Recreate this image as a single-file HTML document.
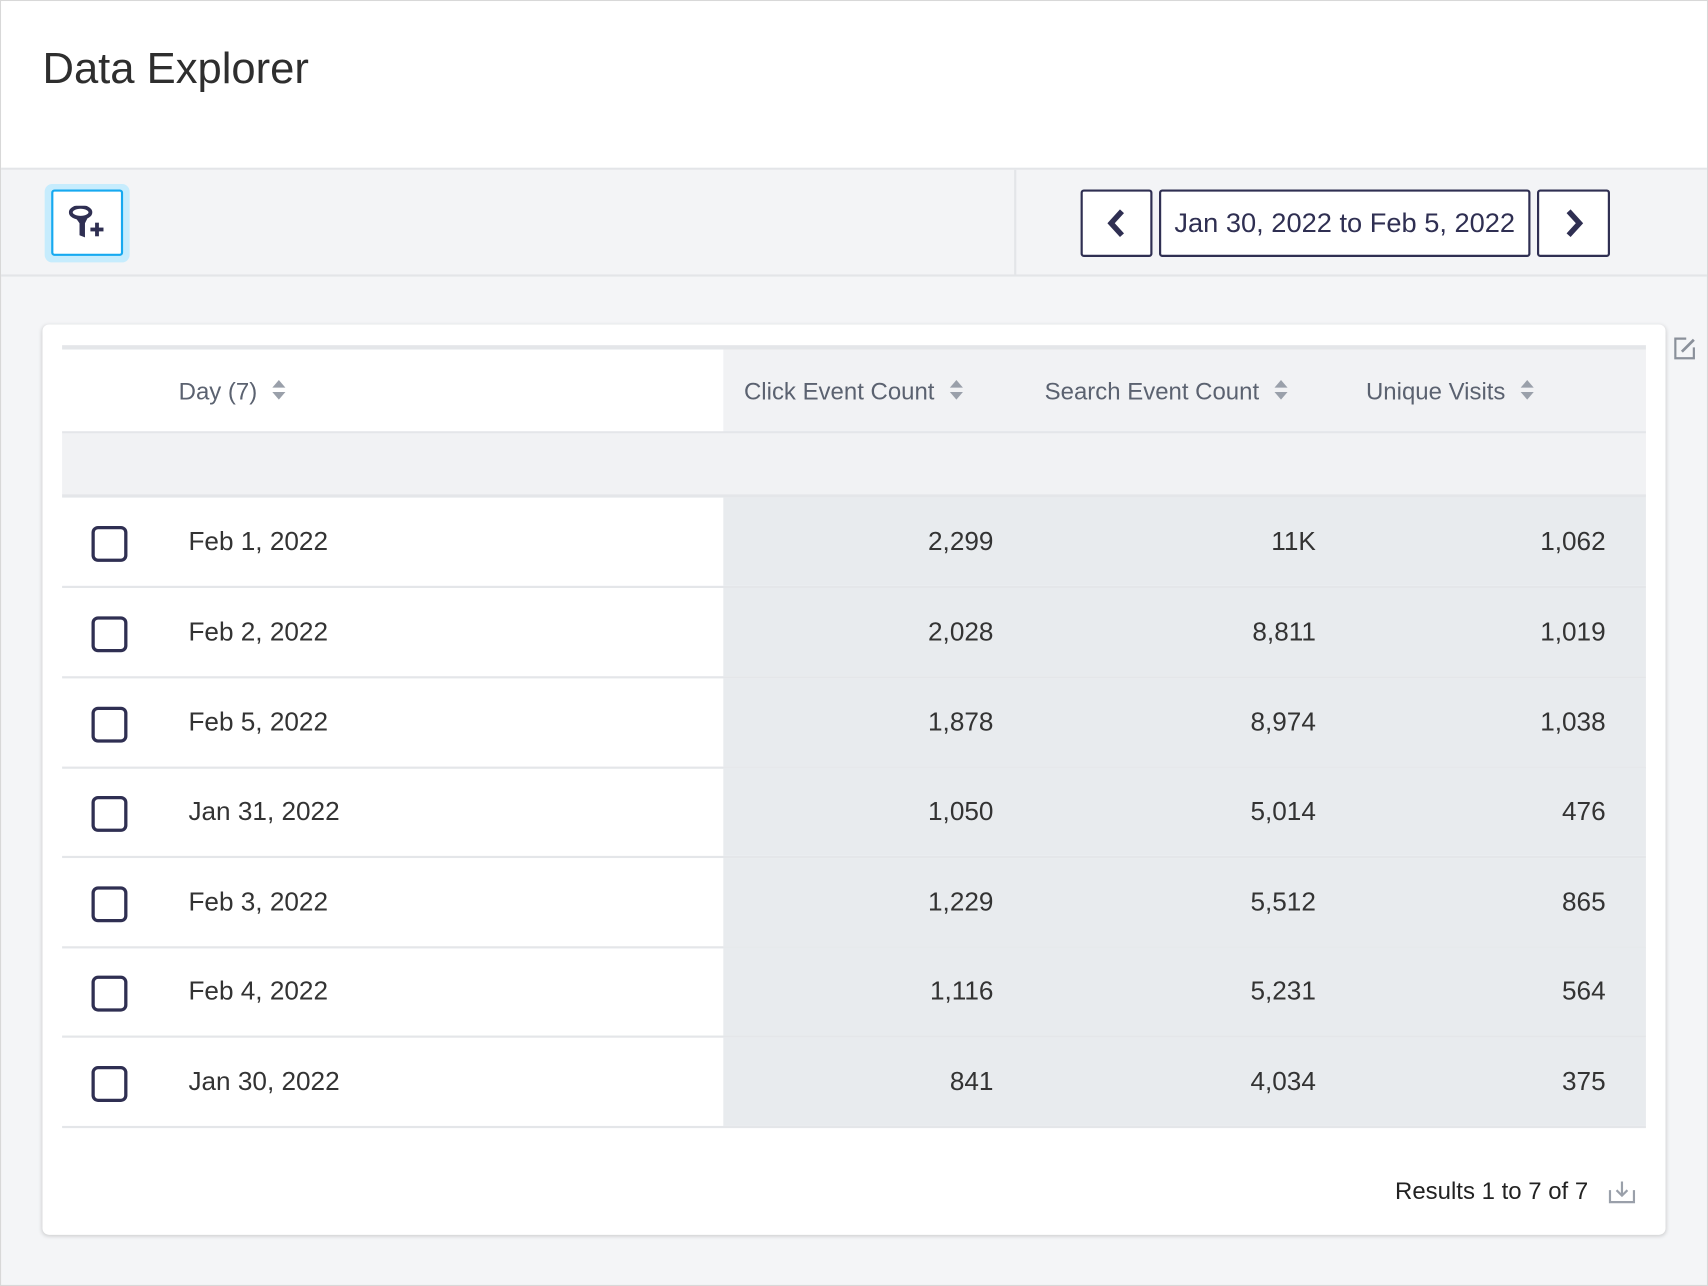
<!DOCTYPE html>
<html><head><meta charset="utf-8"><style>
*{box-sizing:border-box;margin:0;padding:0}
html,body{width:1708px;height:1286px;overflow:hidden;background:#fff}
#w{position:absolute;left:0;top:0;width:1568px;height:1181px;transform:scale(1.0893,1.0889);transform-origin:0 0;font-family:"Liberation Sans",sans-serif;background:#f4f5f7;border:1px solid #d8d8d8}
.a{position:absolute}
.hd{left:0;top:0;width:1566px;height:155px;background:#fff;border-bottom:2px solid #e3e5e8}
.title{left:38px;top:40px;font-size:40px;color:#2e2e2e}
.tb{left:0;top:155px;width:1566px;height:98px;background:#f3f4f6;border-bottom:2px solid #e3e5e8}
.btn{background:#fff;border:2px solid #2f2f52;border-radius:3px;top:173px;height:62px;display:flex;align-items:center;justify-content:center;color:#2f2f52}
.card{left:38px;top:297px;width:1490px;height:836px;background:#fff;border-radius:6px;box-shadow:0 1px 4px rgba(0,0,0,.18)}
.th{font-size:22px;color:#5b6270;top:346px}
.sort{display:inline-block;margin-left:14px;vertical-align:middle;width:10px;height:20px;position:relative;top:-2px}
.sort:before,.sort:after{content:"";position:absolute;left:0;border-left:6px solid transparent;border-right:6px solid transparent}
.sort:before{top:0;border-bottom:7px solid #9aa0aa}
.sort:after{top:11px;border-top:7px solid #9aa0aa}
.row{left:56px;width:1454px;height:83px;border-bottom:2px solid #e4e6e9}
.row .r{position:absolute;left:607px;top:0;width:847px;height:81px;background:#e8ebee}
.cb{position:absolute;left:27px;top:26px;width:33px;height:33px;border:3px solid #2f2f52;border-radius:6px}
.d{position:absolute;left:116px;top:27px;font-size:24px;color:#333}
.n{position:absolute;top:27px;font-size:24px;color:#333;text-align:right;width:200px}
</style></head><body><div id="w">
<div class="a hd"></div>
<div class="a title">Data Explorer</div>
<div class="a tb"></div>
<div class="a" style="left:930px;top:155px;width:2px;height:97px;background:#e3e5e8"></div>
<div class="a" style="left:40px;top:168px;width:78px;height:72px;background:#c6ecfd;border-radius:7px"></div>
<div class="a" style="left:46px;top:173px;width:66px;height:61px;background:#fff;border:2px solid #16a9f0;border-radius:3px"></div>
<svg class="a" style="left:62px;top:188px" width="36" height="34" viewBox="0 0 36 34"><ellipse cx="11" cy="6" rx="9" ry="5" fill="none" stroke="#2f2f52" stroke-width="3.5"/><path d="M5 9 L10 16 L10 27 L15 29 L15 16 L18 10Z" fill="#2f2f52"/><rect x="20" y="20" width="12" height="3.5" fill="#2f2f52"/><rect x="24.3" y="15.5" width="3.5" height="12.5" fill="#2f2f52"/></svg>
<div class="a btn" style="left:991px;width:66px"><svg width="20" height="28"><path d="M15 3 L5 14 L15 25" fill="none" stroke="#2f2f52" stroke-width="5"/></svg></div>
<div class="a btn" style="left:1063px;width:341px;font-size:25px">Jan 30, 2022 to Feb 5, 2022</div>
<div class="a btn" style="left:1410px;width:67px"><svg width="20" height="28"><path d="M5 3 L15 14 L5 25" fill="none" stroke="#2f2f52" stroke-width="5"/></svg></div>
<div class="a card"></div>
<svg class="a" style="left:1534px;top:307px" width="24" height="24"><path d="M13 3 H3 V21 H20 V11" fill="none" stroke="#8a909a" stroke-width="2"/><path d="M9 15 L20 4" stroke="#8a909a" stroke-width="2.5"/></svg>
<div class="a" style="left:56px;top:316px;width:1454px;height:4px;background:#e4e6e9"></div>
<div class="a" style="left:663px;top:320px;width:847px;height:76px;background:#f1f2f4"></div>
<div class="a" style="left:56px;top:395px;width:1454px;height:2px;background:#e4e6e9"></div>
<div class="a" style="left:56px;top:397px;width:1454px;height:57px;background:#f1f2f4"></div>
<div class="a" style="left:56px;top:453px;width:1454px;height:3px;background:#e4e6e9"></div>
<div class="a th" style="left:163px">Day (7)<span class="sort"></span></div>
<div class="a th" style="left:682px">Click Event Count<span class="sort"></span></div>
<div class="a th" style="left:958px">Search Event Count<span class="sort"></span></div>
<div class="a th" style="left:1253px">Unique Visits<span class="sort"></span></div>

<div class="a row" style="top:456px"><div class="r"></div><div class="cb"></div><div class="d">Feb 1, 2022</div><div class="n" style="left:655px">2,299</div><div class="n" style="left:951px">11K</div><div class="n" style="left:1217px">1,062</div></div>
<div class="a row" style="top:539px"><div class="r"></div><div class="cb"></div><div class="d">Feb 2, 2022</div><div class="n" style="left:655px">2,028</div><div class="n" style="left:951px">8,811</div><div class="n" style="left:1217px">1,019</div></div>
<div class="a row" style="top:622px"><div class="r"></div><div class="cb"></div><div class="d">Feb 5, 2022</div><div class="n" style="left:655px">1,878</div><div class="n" style="left:951px">8,974</div><div class="n" style="left:1217px">1,038</div></div>
<div class="a row" style="top:704px"><div class="r"></div><div class="cb"></div><div class="d">Jan 31, 2022</div><div class="n" style="left:655px">1,050</div><div class="n" style="left:951px">5,014</div><div class="n" style="left:1217px">476</div></div>
<div class="a row" style="top:787px"><div class="r"></div><div class="cb"></div><div class="d">Feb 3, 2022</div><div class="n" style="left:655px">1,229</div><div class="n" style="left:951px">5,512</div><div class="n" style="left:1217px">865</div></div>
<div class="a row" style="top:869px"><div class="r"></div><div class="cb"></div><div class="d">Feb 4, 2022</div><div class="n" style="left:655px">1,116</div><div class="n" style="left:951px">5,231</div><div class="n" style="left:1217px">564</div></div>
<div class="a row" style="top:952px"><div class="r"></div><div class="cb"></div><div class="d">Jan 30, 2022</div><div class="n" style="left:655px">841</div><div class="n" style="left:951px">4,034</div><div class="n" style="left:1217px">375</div></div>

<div class="a" style="left:1157px;top:1080px;width:300px;text-align:right;font-size:22px;color:#222">Results 1 to 7 of 7</div>
<svg class="a" style="left:1475px;top:1082px" width="26" height="24"><path d="M2 10 V21 H24 V10" fill="none" stroke="#9aa0aa" stroke-width="2"/><path d="M13 2 V15 M8 10 L13 15 L18 10" fill="none" stroke="#9aa0aa" stroke-width="2"/></svg>
</div></body></html>
